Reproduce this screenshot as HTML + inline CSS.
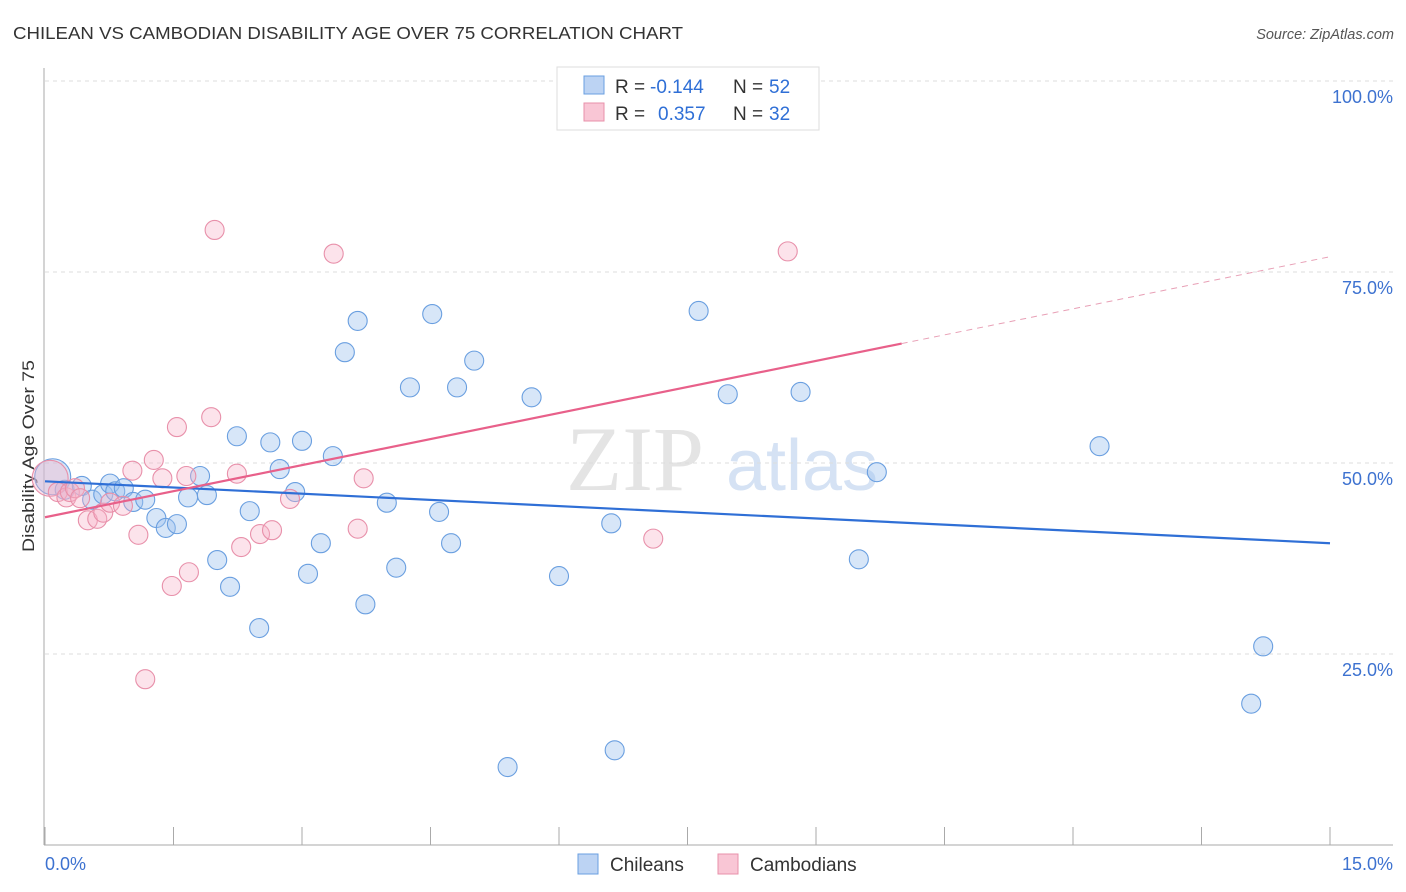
<!DOCTYPE html>
<html><head><meta charset="utf-8"><style>
body{margin:0;background:#fff;font-family:"Liberation Sans",sans-serif}
svg{display:block}
</style></head><body>
<svg id="chart" width="1406" height="892">
<text x="13" y="39" font-size="17.5" fill="#333" textLength="670" lengthAdjust="spacingAndGlyphs">CHILEAN VS CAMBODIAN DISABILITY AGE OVER 75 CORRELATION CHART</text>
<text x="1394" y="39" font-size="14.5" fill="#555" font-style="italic" text-anchor="end">Source: ZipAtlas.com</text>
<text x="0" y="0" font-size="17" fill="#333" text-anchor="middle" textLength="192" lengthAdjust="spacingAndGlyphs" transform="translate(34,456) rotate(-90)">Disability Age Over 75</text>
<g><text x="635" y="490" font-size="92" fill="#e4e4e4" font-family="Liberation Serif,serif" text-anchor="middle">ZIP</text><text x="802" y="490" font-size="72" fill="#d5e2f4" text-anchor="middle">atlas</text></g>
<g id="grid"></g><g id="axes"></g><g id="pts"></g><g id="lines"></g>
<g>
<rect x="557" y="67" width="262" height="63" fill="#fff" stroke="#ddd"/>
<rect x="584" y="76" width="20" height="18" fill="#bcd3f3" stroke="#6a9fe0"/>
<rect x="584" y="103" width="20" height="18" fill="#f9c6d5" stroke="#e890aa"/>
<text x="615" y="93" font-size="19" fill="#333">R = </text>
<text x="650" y="93" font-size="19" fill="#2f6fd6">-0.144</text>
<text x="733" y="93" font-size="19" fill="#333">N = </text>
<text x="769" y="93" font-size="19" fill="#2f6fd6">52</text>
<text x="615" y="120" font-size="19" fill="#333">R = </text>
<text x="658" y="120" font-size="19" fill="#2f6fd6">0.357</text>
<text x="733" y="120" font-size="19" fill="#333">N = </text>
<text x="769" y="120" font-size="19" fill="#2f6fd6">32</text>
</g>
<g>
<rect x="578" y="854" width="20" height="20" fill="#bcd3f3" stroke="#6a9fe0"/>
<text x="610" y="871" font-size="19" fill="#333">Chileans</text>
<rect x="718" y="854" width="20" height="20" fill="#f9c6d5" stroke="#e890aa"/>
<text x="750" y="871" font-size="19" fill="#333">Cambodians</text>
</g>
</svg>
<script>
const blueX=[0.09,0.23,0.43,0.55,0.68,0.76,0.82,0.92,1.03,1.17,1.30,1.41,1.54,1.67,1.81,1.89,2.01,2.16,2.24,2.39,2.50,2.63,2.74,2.92,3.00,3.07,3.22,3.36,3.50,3.65,3.74,3.99,4.10,4.26,4.52,4.60,4.74,4.81,5.01,5.40,5.68,6.00,6.61,6.65,7.63,7.97,8.82,9.50,9.71,12.31,14.08,14.22];
const blueY=[48.2,46.5,47.0,45.2,45.9,47.3,46.3,46.7,44.9,45.2,42.8,41.5,42.0,45.5,48.3,45.8,37.3,33.8,53.5,43.7,28.4,52.7,49.2,46.2,52.9,35.5,39.5,50.9,64.5,68.6,31.5,44.8,36.3,59.9,69.5,43.6,39.5,59.9,63.4,10.2,58.6,35.2,42.1,12.4,69.9,59.0,59.3,37.4,48.8,52.2,18.5,26.0];
const pinkX=[0.06,0.15,0.25,0.29,0.35,0.41,0.50,0.61,0.68,0.76,0.91,1.02,1.09,1.17,1.27,1.37,1.48,1.54,1.65,1.68,1.94,1.98,2.24,2.29,2.51,2.65,2.86,3.37,3.65,3.72,7.10,8.67];
const pinkY=[48.0,46.2,45.5,46.2,46.7,45.4,42.5,42.7,43.5,44.8,44.4,49.0,40.6,21.7,50.4,48.0,33.9,54.7,48.3,35.7,56.0,80.5,48.6,39.0,40.7,41.2,45.3,77.4,41.4,48.0,40.1,77.7];
const blueTrend=[47.6,39.5];
const pinkTrend=[42.9,77.0];
const pinkSolidEnd=10.0;
const yTicks=[100,75,50,25];
const yTickLabels=["100.0%","75.0%","50.0%","25.0%"];
const xTicks=[0,1.5,3,4.5,6,7.5,9,10.5,12,13.5,15];
const NS="http://www.w3.org/2000/svg";
const X=v=>45+v*(1285/15);
const Y=v=>845-v*7.64;
function mk(t,a,p){const e=document.createElementNS(NS,t);for(const k in a)e.setAttribute(k,a[k]);p.appendChild(e);return e;}
const grid=document.getElementById('grid'),axes=document.getElementById('axes'),pts=document.getElementById('pts'),lines=document.getElementById('lines');
yTicks.forEach((v,i)=>{
 const g=mk('line',{x1:45,x2:1393,y1:Y(v),y2:Y(v),stroke:'#ddd','stroke-dasharray':'4,4'},grid);
 
 
 const t=mk('text',{x:1393,y:Y(v)+22,'font-size':18,fill:'#3d72d0','text-anchor':'end'},axes);
 t.textContent=yTickLabels[i];
 
 
});
const ax=mk('line',{x1:44,x2:44,y1:68,y2:845,stroke:'#aaa'},axes);


const bx=mk('line',{x1:44,x2:1393,y1:845,y2:845,stroke:'#aaa'},axes);


xTicks.forEach(v=>{
 const t=mk('line',{x1:X(v),x2:X(v),y1:845,y2:827,stroke:'#aaa'},axes);
 
 
});
const xl=mk('text',{x:45,y:870,'font-size':18,fill:'#3d72d0'},axes);xl.textContent="0.0%";


const xr=mk('text',{x:1393,y:870,'font-size':18,fill:'#3d72d0','text-anchor':'end'},axes);xr.textContent="15.0%";


function dots(xs,ys,fill,stroke,name){xs.forEach((x,i)=>{
 const c=mk('circle',{cx:X(x),cy:Y(ys[i]),r:i===0?18:9.5,fill:fill,stroke:stroke,'stroke-width':1.1},pts);
 
 
});}
dots(blueX,blueY,'rgba(160,195,238,0.42)','#6a9fe0','chilean-point');
dots(pinkX,pinkY,'rgba(246,178,200,0.36)','#e890aa','cambodian-point');
const bl=mk('line',{x1:X(0),y1:Y(blueTrend[0]),x2:X(15),y2:Y(blueTrend[1]),stroke:'#2f6fd6','stroke-width':2.2},lines);


const py=x=>pinkTrend[0]+(pinkTrend[1]-pinkTrend[0])*x/15;
const pl=mk('line',{x1:X(0),y1:Y(pinkTrend[0]),x2:X(pinkSolidEnd),y2:Y(py(pinkSolidEnd)),stroke:'#e8608a','stroke-width':2.2},lines);


const pd=mk('line',{x1:X(pinkSolidEnd),y1:Y(py(pinkSolidEnd)),x2:X(15),y2:Y(pinkTrend[1]),stroke:'#e8a0b6','stroke-width':1,'stroke-dasharray':'6,5'},lines);


</script>
</body></html>
